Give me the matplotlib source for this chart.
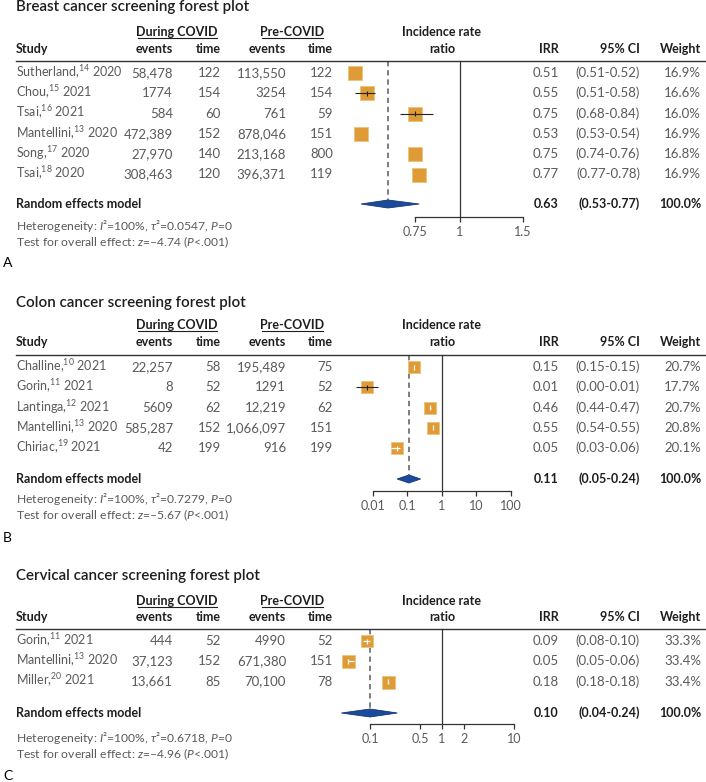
import matplotlib
matplotlib.use('Agg')
import matplotlib.pyplot as plt
import numpy as np
from matplotlib.lines import Line2D
from matplotlib.patches import Polygon
from matplotlib.ticker import NullLocator

plt.rcParams['font.family'] = ['Lato', 'DejaVu Sans']
plt.rcParams['mathtext.fontset'] = 'custom'
plt.rcParams['mathtext.rm'] = 'Lato'
plt.rcParams['mathtext.it'] = 'Lato:italic'
plt.rcParams['mathtext.bf'] = 'Lato:bold'

W, H = 706, 782

# ---- data: breast ----
studies_a = ['Sutherland,${}^{14}$ 2020', 'Chou,${}^{15}$ 2021', 'Tsai,${}^{16}$ 2021',
             'Mantellini,${}^{13}$ 2020', 'Song,${}^{17}$ 2020', 'Tsai,${}^{18}$ 2020']
ev_cov_a = [58478, 1774, 584, 472389, 27970, 308463]
time_cov_a = [122, 154, 60, 152, 140, 120]
ev_pre_a = [113550, 3254, 761, 878046, 213168, 396371]
time_pre_a = [122, 154, 59, 151, 800, 119]
irr_a = [0.51, 0.55, 0.75, 0.53, 0.75, 0.77]
lo_a = [0.51, 0.51, 0.68, 0.53, 0.74, 0.77]
hi_a = [0.52, 0.58, 0.84, 0.54, 0.76, 0.78]
weight_a = [16.9, 16.6, 16.0, 16.9, 16.8, 16.9]
pooled_a = (0.63, 0.53, 0.77)
tau2_a, z_a = '0.0547', '4.74'
ticks_a = [0.75, 1, 1.5]
ticklab_a = ['0.75', '1', '1.5']

# ---- data: colon ----
studies_b = ['Challine,${}^{10}$ 2021', 'Gorin,${}^{11}$ 2021', 'Lantinga,${}^{12}$ 2021',
             'Mantellini,${}^{13}$ 2020', 'Chiriac,${}^{19}$ 2021']
ev_cov_b = [22257, 8, 5609, 585287, 42]
time_cov_b = [58, 52, 62, 152, 199]
ev_pre_b = [195489, 1291, 12219, 1066097, 916]
time_pre_b = [75, 52, 62, 151, 199]
irr_b = [0.15, 0.0067, 0.46, 0.55, 0.05]
lo_b = [0.15, 0.0033, 0.44, 0.54, 0.034]
hi_b = [0.15, 0.014, 0.47, 0.55, 0.06]
weight_b = [20.7, 17.7, 20.7, 20.8, 20.1]
pooled_b = (0.11, 0.05, 0.24)
tau2_b, z_b = '0.7279', '5.67'
ticks_b = [0.01, 0.1, 1, 10, 100]
ticklab_b = ['0.01', '0.1', '1', '10', '100']

# ---- data: cervical ----
studies_c = ['Gorin,${}^{11}$ 2021', 'Mantellini,${}^{13}$ 2020', 'Miller,${}^{20}$ 2021']
ev_cov_c = [444, 37123, 13661]
time_cov_c = [52, 152, 85]
ev_pre_c = [4990, 671380, 70100]
time_pre_c = [52, 151, 78]
irr_c = [0.09, 0.05, 0.18]
lo_c = [0.08, 0.05, 0.18]
hi_c = [0.10, 0.06, 0.18]
weight_c = [33.3, 33.4, 33.4]
pooled_c = (0.10, 0.04, 0.24)
tau2_c, z_c = '0.6718', '4.96'
ticks_c = [0.1, 0.5, 1, 2, 10]
ticklab_c = ['0.1', '0.5', '1', '2', '10']

SQ = '#DE9B36'
SQ_EDGE = '#EBC383'
DIA = '#1B4B9B'
GREY = '#5a5a5a'
DARK = '#1e1e1e'

fig = plt.figure(figsize=(W / 100, H / 100), dpi=100)


def txt(x, y, s, ha='left', bold=False, size=9.5, color=None, weight=None):
    fig.text(x / W, 1 - (y + 4) / H, s, ha=ha, va='baseline', fontsize=size,
             fontweight=weight or ('bold' if bold else 'normal'),
             color=color or (DARK if bold else GREY))


def hline(x0, x1, y, lw=1.0, color='#333333'):
    fig.add_artist(Line2D([x0 / W, x1 / W], [1 - y / H, 1 - y / H], lw=lw, color=color))


def fmt_n(v):
    return f'{v:,}' if v >= 10000 else str(v)


def panel(lay, title, letter, studies, ev_cov, t_cov, ev_pre, t_pre, irr, lo, hi, wt,
          pooled, tau2, z, ticks, ticklab, center, ppd, sq_px, inside_marks):
    # headers
    txt(16, lay['title'], title, bold=True, size=10.9, weight='semibold')
    txt(177, lay['group'], 'During COVID', ha='center', bold=True, size=9)
    txt(292.5, lay['group'], 'Pre-COVID', ha='center', bold=True, size=9)
    hline(138, 217, lay['group'] + 6, lw=0.8, color=DARK)
    hline(262, 323, lay['group'] + 6, lw=0.8, color=DARK)
    txt(442, lay['group'], 'Incidence rate', ha='center', bold=True, size=9)
    txt(442, lay['head'], 'ratio', ha='center', bold=True, size=9)
    txt(16, lay['head'], 'Study', bold=True, size=9)
    txt(173, lay['head'], 'events', ha='right', bold=True, size=9)
    txt(221, lay['head'], 'time', ha='right', bold=True, size=9)
    txt(286, lay['head'], 'events', ha='right', bold=True, size=9)
    txt(333, lay['head'], 'time', ha='right', bold=True, size=9)
    txt(559, lay['head'], 'IRR', ha='right', bold=True, size=9)
    txt(640, lay['head'], '95% CI', ha='right', bold=True, size=9)
    txt(701, lay['head'], 'Weight', ha='right', bold=True, size=9)
    hline(16, 706, lay['line'])

    rows = [lay['row0'] + 20.3 * i for i in range(len(studies))]
    for y, s, a, b, c, d, e, l, h, w in zip(rows, studies, ev_cov, t_cov, ev_pre, t_pre,
                                             irr, lo, hi, wt):
        txt(16, y, s, size=9)
        txt(173, y, fmt_n(a), ha='right')
        txt(221, y, str(b), ha='right')
        txt(286, y, fmt_n(c), ha='right')
        txt(333, y, str(d), ha='right')
        txt(559, y, f'{e:.2f}', ha='right')
        txt(640, y, f'({l:.2f}-{h:.2f})', ha='right')
        txt(701, y, f'{w:.1f}%', ha='right')

    re_y = lay['re']
    txt(16, re_y, 'Random effects model', bold=True, size=9)
    txt(559, re_y, f'{pooled[0]:.2f}', ha='right', bold=True, size=9)
    txt(640, re_y, f'({pooled[1]:.2f}-{pooled[2]:.2f})', ha='right', bold=True, size=9)
    txt(701, re_y, '100.0%', ha='right', bold=True, size=9)
    txt(16, lay['het'], r'Heterogeneity: $I$²=100%, $\tau$²=' + tau2 + r', $P$=0',
        size=8.7)
    txt(16, lay['test'], r'Test for overall effect: $z$=–' + z + r' ($P$<.001)', size=8.7)
    fig.text(3 / W, 1 - (lay['letter'] + 5) / H, letter, fontsize=10, fontweight='normal',
             color='black', va='baseline')

    # forest axes: x log scale, y in pixel rows
    left, right = 335, 545
    top, bottom = lay['line'], lay['axis']
    ax = fig.add_axes([left / W, 1 - bottom / H, (right - left) / W, (bottom - top) / H])
    ax.set_xscale('log')
    ax.set_xlim(10 ** ((left - center) / ppd), 10 ** ((right - center) / ppd))
    ax.set_ylim(bottom, top)
    ax.patch.set_visible(False)
    for sp in ['top', 'left', 'right']:
        ax.spines[sp].set_visible(False)
    ax.spines['bottom'].set_bounds(ticks[0], ticks[-1])
    ax.spines['bottom'].set_color('#333333')
    ax.spines['bottom'].set_linewidth(0.9)
    ax.set_yticks([])
    ax.set_xticks(ticks)
    ax.set_xticklabels(ticklab)
    ax.xaxis.set_minor_locator(NullLocator())
    ax.tick_params(axis='x', direction='out', length=3.5, width=0.9, color='#333333',
                   labelsize=9, labelcolor=GREY, pad=3)

    ax.axvline(1, color='#333333', lw=0.9, clip_on=False)
    ax.vlines(pooled[0], top, re_y - 4, colors=GREY, lw=1.1, linestyles=(0, (3.5, 2.5)))

    wmax = max(wt)
    for y, e, l, h, w in zip(rows, irr, lo, hi, wt):
        side = sq_px * np.sqrt(w / wmax)
        ax.plot([e], [y], marker='s', ms=side * 0.72, color=SQ, mec=SQ_EDGE, mew=0.7,
                linestyle='none', clip_on=False, zorder=3)
        px_lo = center + ppd * np.log10(l)
        px_hi = center + ppd * np.log10(h)
        px_e = center + ppd * np.log10(e)
        inside = (px_e - px_lo) < side / 2 and (px_hi - px_e) < side / 2
        if inside:
            if inside_marks:
                ax.hlines(y, l, h, colors='white', lw=0.9, zorder=4, clip_on=False)
                ax.vlines(e, y - 2.5, y + 2.5, colors='white', lw=0.9, zorder=4, clip_on=False)
        else:
            ax.hlines(y, l, h, colors='#222222', lw=0.8, zorder=4, clip_on=False)
            ax.vlines(e, y - 2.5, y + 2.5, colors='#222222', lw=0.8, zorder=4, clip_on=False)

    est, plo, phi = pooled
    ax.add_patch(Polygon([(plo, re_y), (est, re_y - 4), (phi, re_y), (est, re_y + 4)],
                         closed=True, facecolor=DIA, edgecolor='#123675', lw=0.6,
                         zorder=5, clip_on=False))


lay_a = dict(title=7, group=32, head=49, line=61, row0=73, re=204, het=226, test=242,
             axis=217, letter=262)
lay_b = dict(title=303, group=325, head=342, line=355, row0=367, re=479, het=499, test=515,
             axis=491, letter=537)
lay_c = dict(title=576, group=601, head=617, line=629, row0=641, re=713, het=738, test=754,
             axis=724, letter=775)

panel(lay_a, 'Breast cancer screening forest plot', 'A', studies_a, ev_cov_a, time_cov_a,
      ev_pre_a, time_pre_a, irr_a, lo_a, hi_a, weight_a, pooled_a, tau2_a, z_a,
      ticks_a, ticklab_a, 460, 359, 14, False)
panel(lay_b, 'Colon cancer screening forest plot', 'B', studies_b, ev_cov_b, time_cov_b,
      ev_pre_b, time_pre_b, irr_b, lo_b, hi_b, weight_b, pooled_b, tau2_b, z_b,
      ticks_b, ticklab_b, 442, 34.5, 12.5, True)
panel(lay_c, 'Cervical cancer screening forest plot', 'C', studies_c, ev_cov_c, time_cov_c,
      ev_pre_c, time_pre_c, irr_c, lo_c, hi_c, weight_c, pooled_c, tau2_c, z_c,
      ticks_c, ticklab_c, 442, 72, 13, True)

fig.savefig('out.png', dpi=100)
